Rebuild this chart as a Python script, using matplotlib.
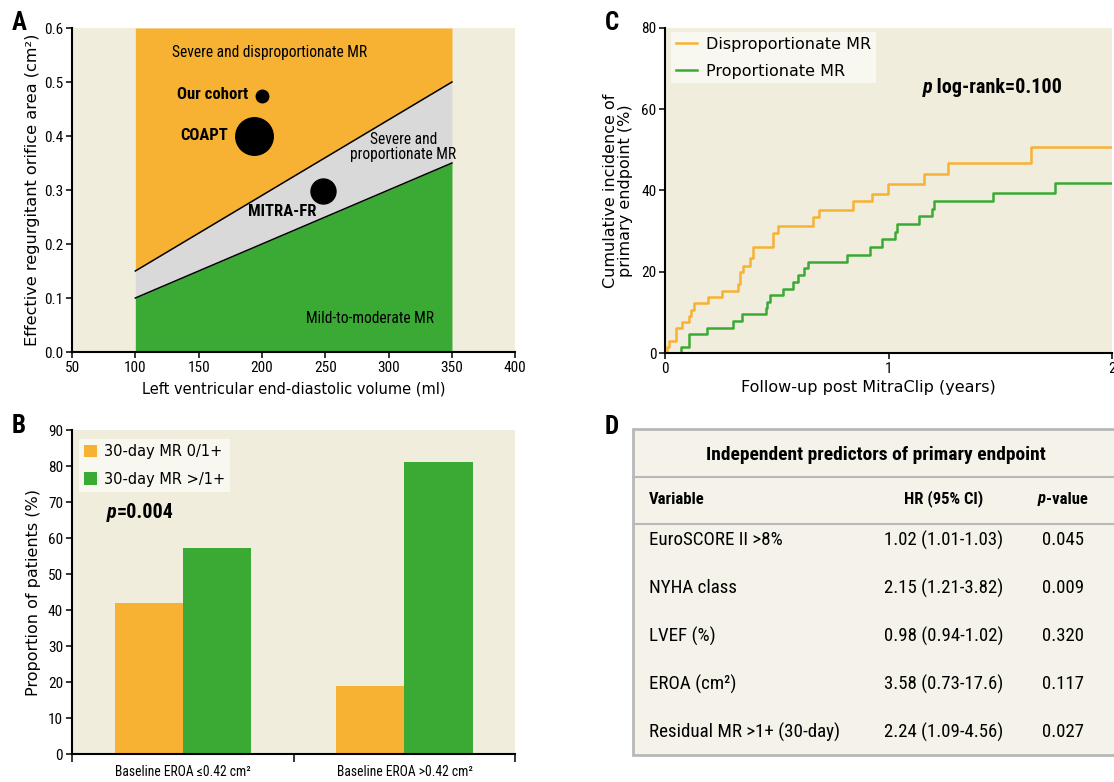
import numpy as np
import matplotlib
matplotlib.use('Agg')
import matplotlib.pyplot as plt
from matplotlib.patches import Rectangle

NARROW = ['Roboto Condensed', 'DejaVu Sans']
plt.rcParams['font.family'] = ['DejaVu Sans']

ORANGE = '#f7b133'
GREEN = '#3aaa35'
GREY = '#d9d9d9'
BEIGE = '#f1eddc'
LEGBG = '#f9f8f0'
TABBG = '#f5f3e9'
LINEGREY = '#b8b8b8'

# ---- panel A data
lvedv_edges = [100, 350]
upper_line = [0.15, 0.50]
lower_line = [0.10, 0.35]
trial_names = ['Our cohort', 'COAPT', 'MITRA-FR']
trial_lvedv = [200, 194, 248]
trial_eroa = [0.475, 0.40, 0.298]
trial_msize = [9, 27, 18]

# ---- panel B data
groups = ['Baseline EROA ≤0.42 cm²', 'Baseline EROA >0.42 cm²']
mr_low = [42.0, 19.0]
mr_high = [57.3, 81.1]

# ---- panel C data (Kaplan-Meier style steps)
disp_t = [0, 0.009, 0.016, 0.048, 0.075, 0.106, 0.115, 0.130, 0.193, 0.254, 0.324, 0.335,
          0.347, 0.378, 0.393, 0.483, 0.507, 0.661, 0.688, 0.839, 0.927, 0.997, 1.157,
          1.266, 1.640, 2.0]
disp_y = [0, 1.6, 3.1, 6.1, 7.7, 9.2, 10.6, 12.4, 13.9, 15.4, 17.0, 20.0, 21.5, 23.3,
          26.2, 29.5, 31.2, 33.4, 35.2, 37.3, 39.2, 41.5, 44.1, 46.8, 50.7, 50.7]
prop_t = [0, 0.070, 0.108, 0.188, 0.302, 0.342, 0.451, 0.457, 0.471, 0.526, 0.570, 0.596,
          0.623, 0.638, 0.813, 0.918, 0.972, 1.030, 1.036, 1.138, 1.193, 1.203, 1.468,
          1.747, 2.0]
prop_y = [0, 1.6, 4.8, 6.3, 7.9, 9.6, 11.1, 12.6, 14.3, 15.9, 17.5, 19.2, 20.9, 22.5,
          24.2, 26.1, 28.0, 29.9, 31.7, 33.7, 35.5, 37.4, 39.5, 41.9, 41.9]

# ---- panel D data
variables = ['EuroSCORE II >8%', 'NYHA class', 'LVEF (%)', 'EROA (cm²)',
             'Residual MR >1+ (30-day)']
hrs = ['1.02 (1.01-1.03)', '2.15 (1.21-3.82)', '0.98 (0.94-1.02)', '3.58 (0.73-17.6)',
       '2.24 (1.09-4.56)']
pvals = ['0.045', '0.009', '0.320', '0.117', '0.027']

W, H = 1114, 782
fig = plt.figure(figsize=(W / 100, H / 100), dpi=100)


def box(l, t, r, b):
    return [l / W, 1 - b / H, (r - l) / W, (b - t) / H]


def style_axes(ax):
    ax.set_facecolor(BEIGE)
    for s in ['top', 'right']:
        ax.spines[s].set_visible(False)
    for s in ['left', 'bottom']:
        ax.spines[s].set_linewidth(1.5)
    ax.tick_params(direction='out', length=4.5, width=1.1, pad=2)


def bold_p(ax, x, y, rest, size):
    t = ax.text(x, y, 'p', transform=ax.transAxes, fontfamily=NARROW, fontsize=size,
                fontweight='bold', style='italic', va='center', ha='left')
    ax.annotate(rest, xy=(1, 0), xycoords=t, va='bottom', ha='left',
                fontfamily=NARROW, fontsize=size, fontweight='bold')


def clean_legend(leg):
    fr = leg.get_frame()
    fr.set_facecolor(LEGBG)
    fr.set_edgecolor('none')
    fr.set_alpha(1)


# ================= A
axA = fig.add_axes(box(72, 28, 515.3, 352))
style_axes(axA)
axA.fill_between(lvedv_edges, upper_line, 0.6, color=ORANGE, lw=0)
axA.fill_between(lvedv_edges, lower_line, upper_line, color=GREY, lw=0)
axA.fill_between(lvedv_edges, 0, lower_line, color=GREEN, lw=0)
axA.plot(lvedv_edges, upper_line, color='black', lw=1.1)
axA.plot(lvedv_edges, lower_line, color='black', lw=1.1)
for x, y, s in zip(trial_lvedv, trial_eroa, trial_msize):
    axA.plot(x, y, 'o', color='black', markersize=s)
axA.set_xlim(50, 400)
axA.set_ylim(0, 0.6)
xt = np.arange(50, 401, 50)
axA.set_xticks(xt, [str(v) for v in xt], fontfamily=NARROW, fontsize=11)
yt = np.arange(0, 0.61, 0.1)
axA.set_yticks(yt, ['%.1f' % v for v in yt], fontfamily=NARROW, fontsize=11)
axA.set_xlabel('Left ventricular end-diastolic volume (ml)', fontsize=10.5, labelpad=5)
axA.set_ylabel('Effective regurgitant orifice area (cm²)', fontsize=11.6, labelpad=3)
axA.text(206, 0.554, 'Severe and disproportionate MR', fontfamily=NARROW, fontsize=11.2,
         ha='center', va='center')
axA.text(189, 0.477, trial_names[0], fontfamily=NARROW, fontsize=12, fontweight='bold',
         ha='right', va='center')
axA.text(173, 0.40, trial_names[1], fontfamily=NARROW, fontsize=12, fontweight='bold',
         ha='right', va='center')
axA.text(216, 0.26, trial_names[2], fontfamily=NARROW, fontsize=12, fontweight='bold',
         ha='center', va='center')
axA.text(311.5, 0.38, 'Severe and\nproportionate MR', fontfamily=NARROW, fontsize=11.2,
         ha='center', va='center', linespacing=0.95)
axA.text(285, 0.062, 'Mild-to-moderate MR', fontfamily=NARROW, fontsize=11.2,
         ha='center', va='center')

# ================= B
axB = fig.add_axes(box(72, 430, 515.3, 754.3))
style_axes(axB)
centers = np.array([0.5, 1.5])
bw = 0.307
axB.bar(centers - bw / 2, mr_low, width=bw, color=ORANGE, label='30-day MR 0/1+')
axB.bar(centers + bw / 2, mr_high, width=bw, color=GREEN, label='30-day MR >/1+')
axB.set_xlim(0, 2)
axB.set_ylim(0, 90)
axB.set_xticks([0, 1, 2], ['', '', ''])
axB.tick_params(axis='x', length=5.5)
axB.set_xticks(centers, groups, minor=True, fontfamily=NARROW, fontsize=9.8)
axB.tick_params(axis='x', which='minor', length=0, pad=8)
yt = np.arange(0, 91, 10)
axB.set_yticks(yt, [str(v) for v in yt], fontfamily=NARROW, fontsize=11)
axB.set_ylabel('Proportion of patients (%)', fontsize=11.5, labelpad=5)
leg = axB.legend(loc='upper left', bbox_to_anchor=(0.015, 0.972), borderaxespad=0,
                 fontsize=10.5, frameon=True, fancybox=False, handlelength=0.9,
                 handleheight=0.9, handletextpad=0.5, labelspacing=0.85, borderpad=0.35)
clean_legend(leg)
bold_p(axB, 0.079, 0.746, '=0.004', 14.5)

# ================= C
axC = fig.add_axes(box(665.3, 27.7, 1111.7, 353.3))
style_axes(axC)
axC.step(disp_t, disp_y, where='post', color=ORANGE, lw=1.8, label='Disproportionate MR')
axC.step(prop_t, prop_y, where='post', color=GREEN, lw=1.8, label='Proportionate MR')
axC.set_xlim(0, 2)
axC.set_ylim(0, 80)
axC.set_xticks([0, 1, 2], ['0', '1', '2'], fontfamily=NARROW, fontsize=11)
yt = np.arange(0, 81, 20)
axC.set_yticks(yt, [str(v) for v in yt], fontfamily=NARROW, fontsize=11)
axC.set_xlabel('Follow-up post MitraClip (years)', fontsize=11.5)
axC.xaxis.set_label_coords(0.456, -0.082)
axC.set_ylabel('Cumulative incidence of\nprimary endpoint (%)', fontsize=11.5, labelpad=6,
               linespacing=1.0)
leg = axC.legend(loc='upper left', bbox_to_anchor=(0.0128, 0.987), borderaxespad=0,
                 fontsize=11.5, frameon=True, fancybox=False, handlelength=1.3,
                 handletextpad=0.6, labelspacing=0.75, borderpad=0.3)
clean_legend(leg)
bold_p(axC, 0.577, 0.815, ' log-rank=0.100', 14.5)

# ================= D (table)
axD = fig.add_axes(box(633.3, 429.3, W, 755.3))
axD.set_xlim(633.3, W)
axD.set_ylim(755.3, 429.3)
axD.axis('off')
axD.add_patch(Rectangle((633.3, 429.3), 520, 326, facecolor=TABBG, edgecolor=LINEGREY,
                        lw=2, clip_on=False))
axD.plot([633.3, W + 10], [477.3, 477.3], color=LINEGREY, lw=1.5, clip_on=False)
axD.plot([633.3, W + 10], [524, 524], color=LINEGREY, lw=1.5, clip_on=False)
axD.text(876, 455, 'Independent predictors of primary endpoint', fontfamily=NARROW,
         fontsize=14, fontweight='bold', ha='center', va='center')
axD.text(649.3, 499, 'Variable', fontfamily=NARROW, fontsize=12, fontweight='bold',
         ha='left', va='center')
axD.text(944, 499, 'HR (95% CI)', fontfamily=NARROW, fontsize=12, fontweight='bold',
         ha='center', va='center')
tp = axD.text(1038, 499, 'p', fontfamily=NARROW, fontsize=12, fontweight='bold',
              style='italic', ha='left', va='center')
axD.annotate('-value', xy=(1, 0), xycoords=tp, va='bottom', ha='left', fontfamily=NARROW,
             fontsize=12, fontweight='bold')
row_y = 540 + 48.1 * np.arange(len(variables))
for yy, v, h, p in zip(row_y, variables, hrs, pvals):
    axD.text(649.3, yy, v, fontfamily=NARROW, fontsize=13.7, ha='left', va='center')
    axD.text(944, yy, h, fontfamily=NARROW, fontsize=13.5, ha='center', va='center')
    axD.text(1063, yy, p, fontfamily=NARROW, fontsize=13.5, ha='center', va='center')

# panel letters
for lab, x, y in [('A', 12, 23), ('B', 12, 426), ('C', 605, 23), ('D', 605, 427)]:
    fig.text(x / W, 1 - y / H, lab, fontfamily=NARROW, fontsize=18, fontweight='bold',
             ha='left', va='center')

fig.savefig('out.png', dpi=100, facecolor='white')
